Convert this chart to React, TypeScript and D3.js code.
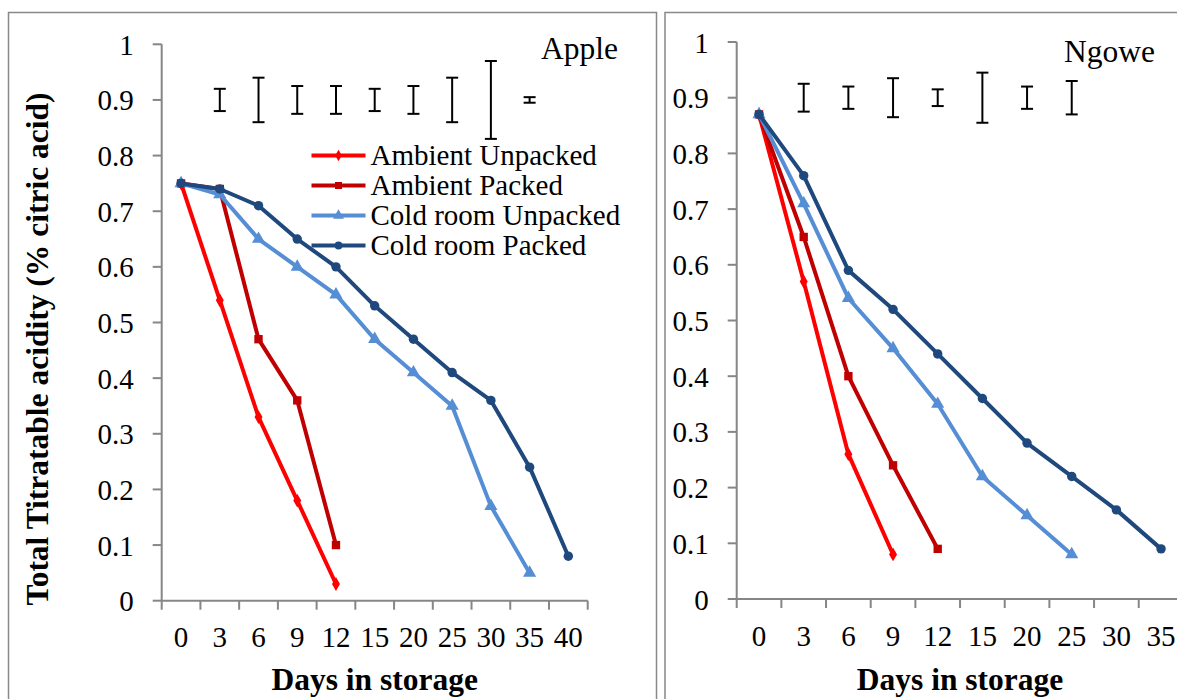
import * as d3 from "d3";

// categories (days in storage)
const appleDays = ["0", "3", "6", "9", "12", "15", "20", "25", "30", "35", "40"];
const ngoweDays = ["0", "3", "6", "9", "12", "15", "20", "25", "30", "35"];

const yTickValues = [0, 0.1, 0.2, 0.3, 0.4, 0.5, 0.6, 0.7, 0.8, 0.9, 1];

// Apple
const appleAmbientUnpacked = [0.75, 0.54, 0.33, 0.18, 0.03];
const appleAmbientPacked = [0.75, 0.74, 0.47, 0.36, 0.1];
const appleColdUnpacked = [0.75, 0.73, 0.65, 0.6, 0.55, 0.47, 0.41, 0.35, 0.17, 0.05];
const appleColdPacked = [0.75, 0.74, 0.71, 0.65, 0.6, 0.53, 0.47, 0.41, 0.36, 0.24, 0.08];
const appleErrDays = ["3", "6", "9", "12", "15", "20", "25", "30", "35"];
const appleErrHalf = [0.02, 0.04, 0.025, 0.025, 0.02, 0.025, 0.04, 0.07, 0.005];

// Ngowe
const ngoweAmbientUnpacked = [0.87, 0.57, 0.26, 0.08];
const ngoweAmbientPacked = [0.87, 0.65, 0.4, 0.24, 0.09];
const ngoweColdUnpacked = [0.87, 0.71, 0.54, 0.45, 0.35, 0.22, 0.15, 0.08];
const ngoweColdPacked = [0.87, 0.76, 0.59, 0.52, 0.44, 0.36, 0.28, 0.22, 0.16, 0.09];
const ngoweErrDays = ["3", "6", "9", "12", "15", "20", "25"];
const ngoweErrHalf = [0.025, 0.02, 0.035, 0.015, 0.045, 0.02, 0.03];

const errMean = 0.9;

const seriesNames = ["Ambient Unpacked", "Ambient Packed", "Cold room Unpacked", "Cold room Packed"];
const seriesColors = ["#ff0000", "#c00000", "#558ed5", "#1f497d"];
const seriesSymbols = [d3.symbolDiamond, d3.symbolSquare, d3.symbolTriangle, d3.symbolCircle];
const symbolSizes = [55, 70, 75, 70];

const FONT = "'Liberation Serif', 'Times New Roman', serif";
const AXIS = "#868686";

function Panel({ days, values, errDays, errHalf, x0, x1, y0, y1, title, titleX, titleY }) {
  const x = d3.scaleBand(days, [x0, x1]);
  const y = d3.scaleLinear([0, 1], [y0, y1]);
  const cx = (d) => x(d) + x.bandwidth() / 2;
  const line = d3.line((d, i) => cx(days[i]), (d) => y(d));
  const tickXs = days.map((d) => x(d)).concat([x1]);

  return (
    <g>
      {/* y axis */}
      <line x1={x0} x2={x0} y1={y1} y2={y0} stroke={AXIS} strokeWidth={2} />
      {yTickValues.map((t) => (
        <g key={t}>
          <line x1={x0 - 9} x2={x0} y1={y(t)} y2={y(t)} stroke={AXIS} strokeWidth={2} />
          <text x={x0 - 28} y={y(t) + 10.5} textAnchor="end" fontSize={29} fontFamily={FONT}>
            {String(t)}
          </text>
        </g>
      ))}
      {/* x axis */}
      <line x1={x0} x2={x1} y1={y0} y2={y0} stroke={AXIS} strokeWidth={2} />
      {tickXs.map((t, i) => (
        <line key={i} x1={t} x2={t} y1={y0} y2={y0 + 9} stroke={AXIS} strokeWidth={2} />
      ))}
      {days.map((d) => (
        <text key={d} x={cx(d)} y={y0 + 46.5} textAnchor="middle" fontSize={29} fontFamily={FONT}>
          {d}
        </text>
      ))}
      <text
        x={(x0 + x1) / 2}
        y={690}
        textAnchor="middle"
        fontSize={31.5}
        fontWeight="bold"
        fontFamily={FONT}
      >
        Days in storage
      </text>
      {/* error bars */}
      {errDays.map((d, i) => (
        <g key={d} stroke="#000" strokeWidth={2}>
          <line x1={cx(d)} x2={cx(d)} y1={y(errMean + errHalf[i])} y2={y(errMean - errHalf[i])} />
          <line x1={cx(d) - 6} x2={cx(d) + 6} y1={y(errMean + errHalf[i])} y2={y(errMean + errHalf[i])} />
          <line x1={cx(d) - 6} x2={cx(d) + 6} y1={y(errMean - errHalf[i])} y2={y(errMean - errHalf[i])} />
        </g>
      ))}
      {/* series */}
      {values.map((vals, s) => (
        <g key={s}>
          <path d={line(vals)} fill="none" stroke={seriesColors[s]} strokeWidth={4} strokeLinejoin="round" />
          {vals.map((v, i) => (
            <path
              key={i}
              d={d3.symbol(seriesSymbols[s], symbolSizes[s])()}
              transform={`translate(${cx(days[i])},${y(v)})`}
              fill={seriesColors[s]}
            />
          ))}
        </g>
      ))}
      <text x={titleX} y={titleY} textAnchor="end" fontSize={31.5} fontFamily={FONT}>
        {title}
      </text>
    </g>
  );
}

function Legend({ x, y }) {
  return (
    <g>
      {seriesNames.map((name, i) => (
        <g key={name} transform={`translate(${x},${y + i * 30})`}>
          <line x1={0} x2={54} y1={0} y2={0} stroke={seriesColors[i]} strokeWidth={4} />
          <path d={d3.symbol(seriesSymbols[i], symbolSizes[i] * 0.7)()} transform="translate(27,0)" fill={seriesColors[i]} />
          <text x={59} y={9.5} fontSize={29} fontFamily={FONT}>
            {name}
          </text>
        </g>
      ))}
    </g>
  );
}

export default function App() {
  return (
    <svg
      width={1177}
      height={699}
      style={{ position: "absolute", left: 0, top: 0, display: "block", background: "#fff" }}
    >
      {/* panel borders */}
      <path d="M8.5,700 V12.5 H656.5 V700" fill="none" stroke="#888" strokeWidth={1.5} />
      <path d="M665,700 V12.5 H1180" fill="none" stroke="#888" strokeWidth={1.5} />

      <text
        transform="translate(48,349) rotate(-90)"
        textAnchor="middle"
        fontSize={31.5}
        fontWeight="bold"
        fontFamily={FONT}
      >
        Total Titratable acidity (% citric acid)
      </text>

      <Panel
        days={appleDays}
        values={[appleAmbientUnpacked, appleAmbientPacked, appleColdUnpacked, appleColdPacked]}
        errDays={appleErrDays}
        errHalf={appleErrHalf}
        x0={161.7}
        x1={587.7}
        y0={600.7}
        y1={44.3}
        title="Apple"
        titleX={618}
        titleY={59}
      />
      <Legend x={311.5} y={155.5} />

      <Panel
        days={ngoweDays}
        values={[ngoweAmbientUnpacked, ngoweAmbientPacked, ngoweColdUnpacked, ngoweColdPacked]}
        errDays={ngoweErrDays}
        errHalf={ngoweErrHalf}
        x0={736.7}
        x1={1183.4}
        y0={599}
        y1={42}
        title="Ngowe"
        titleX={1155}
        titleY={62}
      />
    </svg>
  );
}
